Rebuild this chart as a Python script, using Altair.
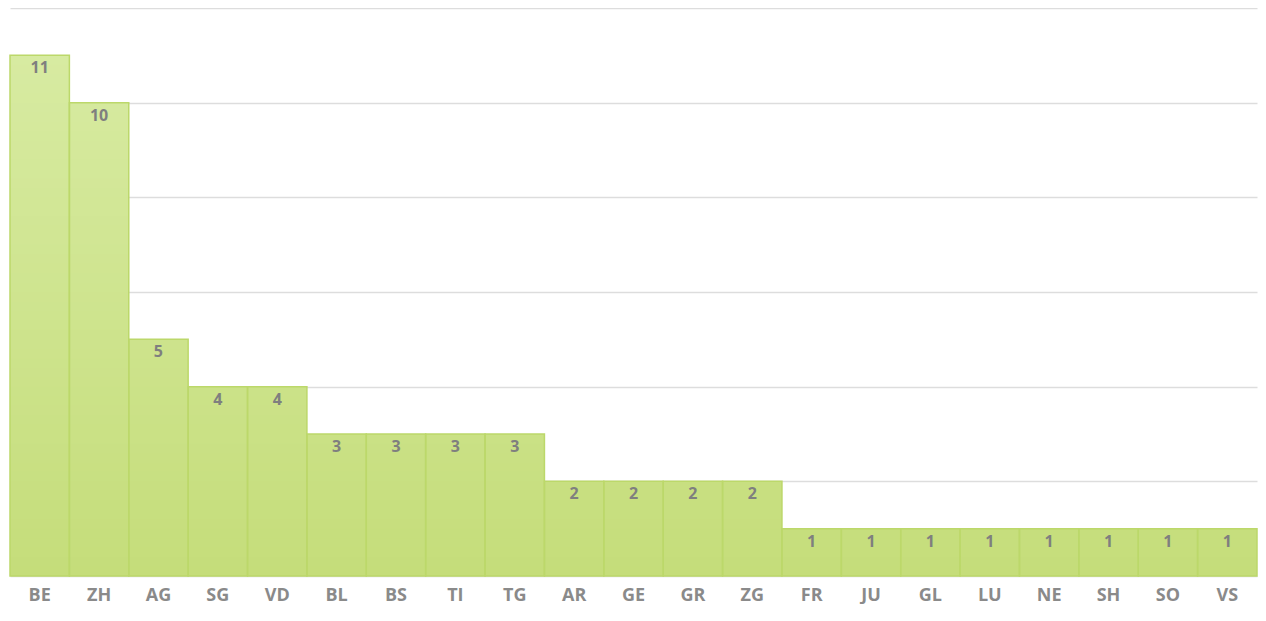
import altair as alt
import pandas as pd

codes = ["BE", "ZH", "AG", "SG", "VD", "BL", "BS", "TI", "TG", "AR", "GE",
         "GR", "ZG", "FR", "JU", "GL", "LU", "NE", "SH", "SO", "VS"]
counts = [11, 10, 5, 4, 4, 3, 3, 3, 3, 2, 2, 2, 2, 1, 1, 1, 1, 1, 1, 1, 1]
grid_values = [0, 2, 4, 6, 8, 10, 12]

df = pd.DataFrame({"code": codes, "count": counts})

# gradient segments (vertical fill shading depends on absolute height)
step = 0.2
rows = []
for c, v in zip(codes, counts):
    n = int(round(v / step))
    for k in range(n):
        y0 = k * step
        y1 = min(v, (k + 1) * step + 0.03)
        rows.append({"code": c, "y0": y0, "y1": y1, "level": y0 + step / 2})
seg = pd.DataFrame(rows)

xenc = alt.X("code:N", sort=codes, title=None,
             scale=alt.Scale(paddingInner=0, paddingOuter=0),
             axis=alt.Axis(labelAngle=0, ticks=False, domain=False, labelPadding=10,
                           labelFont="Open Sans", labelFontSize=18, labelFontWeight="bold",
                           labelColor="#8a8a8a", grid=False))
yscale = alt.Scale(domain=[0, 12], nice=False)

segments = alt.Chart(seg).mark_bar(strokeWidth=0).encode(
    x=xenc,
    y=alt.Y("y0:Q", scale=yscale, title=None,
            axis=alt.Axis(values=grid_values, labels=False, ticks=False, domain=False,
                          grid=True, gridColor="#dddddd", gridWidth=1.5)),
    y2="y1:Q",
    color=alt.Color("level:Q", legend=None,
                    scale=alt.Scale(domain=[0, 12], range=["#c5dd7a", "#d9eca5"])),
)

outline = alt.Chart(df).mark_bar(fillOpacity=0, stroke="#bcd86a", strokeWidth=1.5).encode(
    x=alt.X("code:N", sort=codes),
    y=alt.Y("count:Q", scale=yscale),
)

labels = alt.Chart(df).mark_text(font="Open Sans", fontSize=16, fontWeight="bold",
                                 color="#7f7f7f", baseline="middle", dy=13).encode(
    x=alt.X("code:N", sort=codes),
    y=alt.Y("count:Q", scale=yscale),
    text="count:Q",
)

chart = alt.layer(segments, outline, labels).properties(
    width=1250, height=596,
    padding={"left": 1, "top": 0, "right": 0, "bottom": 0},
    autosize=alt.AutoSizeParams(type="fit", contains="padding"),
).configure_view(stroke=None)

chart.save("out.html", embed_options={"renderer": "svg", "actions": False})
